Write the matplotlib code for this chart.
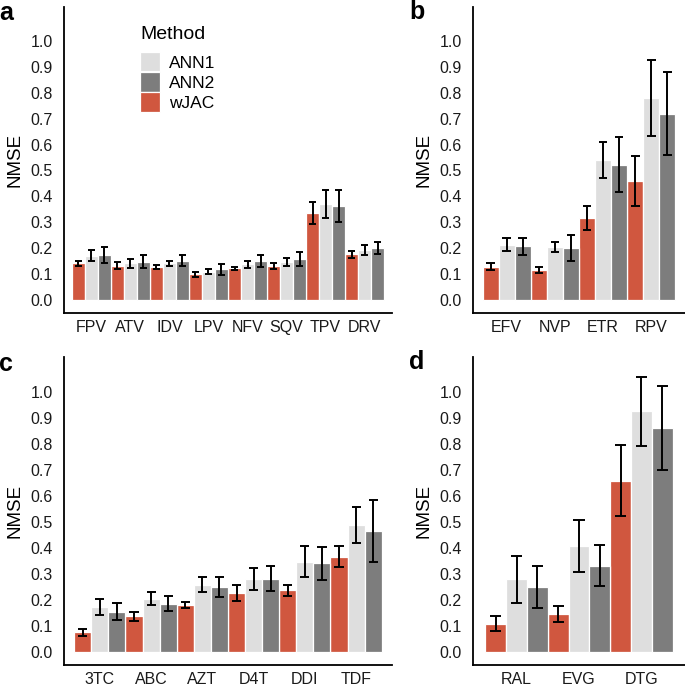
import matplotlib
matplotlib.use("Agg")
import matplotlib.pyplot as plt
import numpy as np

plt.rcParams['font.family'] = ['Liberation Sans', 'DejaVu Sans']

methods = ["wJAC", "ANN1", "ANN2"]
colors = {"wJAC": "#D0573F", "ANN1": "#DEDEDE", "ANN2": "#7D7D7D"}

# Panel a
a_cats = ["FPV", "ATV", "IDV", "LPV", "NFV", "SQV", "TPV", "DRV"]
a_wjac = [0.142, 0.133, 0.126, 0.100, 0.122, 0.131, 0.335, 0.176]
a_wjac_err = [0.009, 0.014, 0.008, 0.010, 0.006, 0.010, 0.042, 0.015]
a_ann1 = [0.171, 0.142, 0.142, 0.109, 0.138, 0.148, 0.371, 0.193]
a_ann1_err = [0.021, 0.018, 0.009, 0.009, 0.014, 0.016, 0.055, 0.021]
a_ann2 = [0.174, 0.147, 0.152, 0.118, 0.152, 0.157, 0.363, 0.200]
a_ann2_err = [0.030, 0.025, 0.022, 0.021, 0.023, 0.027, 0.063, 0.024]

# Panel b
b_cats = ["EFV", "NVP", "ETR", "RPV"]
b_wjac = [0.128, 0.115, 0.317, 0.460]
b_wjac_err = [0.013, 0.011, 0.047, 0.096]
b_ann1 = [0.214, 0.205, 0.541, 0.780]
b_ann1_err = [0.026, 0.018, 0.069, 0.146]
b_ann2 = [0.207, 0.202, 0.523, 0.720]
b_ann2_err = [0.032, 0.050, 0.105, 0.159]

# Panel c
c_cats = ["3TC", "ABC", "AZT", "D4T", "DDI", "TDF"]
c_wjac = [0.076, 0.137, 0.182, 0.227, 0.237, 0.367]
c_wjac_err = [0.013, 0.016, 0.012, 0.030, 0.020, 0.039]
c_ann1 = [0.172, 0.205, 0.259, 0.282, 0.347, 0.488]
c_ann1_err = [0.030, 0.026, 0.030, 0.043, 0.060, 0.070]
c_ann2 = [0.155, 0.186, 0.249, 0.281, 0.341, 0.466]
c_ann2_err = [0.032, 0.028, 0.039, 0.048, 0.064, 0.118]

# Panel d
d_cats = ["RAL", "EVG", "DTG"]
d_wjac = [0.109, 0.146, 0.659]
d_wjac_err = [0.029, 0.032, 0.136]
d_ann1 = [0.279, 0.406, 0.926]
d_ann1_err = [0.090, 0.100, 0.133]
d_ann2 = [0.250, 0.332, 0.862]
d_ann2_err = [0.079, 0.078, 0.163]

yticks = [0.0, 0.1, 0.2, 0.3, 0.4, 0.5, 0.6, 0.7, 0.8, 0.9, 1.0]

W, H = 685, 686
fig = plt.figure(figsize=(W / 100, H / 100), dpi=100)


def px_axes(x0, x1, ytop, ybot):
    return fig.add_axes([x0 / W, (H - ybot) / H, (x1 - x0) / W, (ybot - ytop) / H])


def draw_panel(ax, cats, series, ylim, letter, letter_xy):
    n = len(cats)
    handles = {}
    for j, (m, vals, errs) in enumerate(series):
        x = np.arange(n) * 3 + j + 1
        bc = ax.bar(x, vals, width=1.0, color=colors[m], edgecolor="white",
                    linewidth=0.9, zorder=2)
        handles[m] = bc
        lo = np.array(vals) - np.array(errs)
        hi = np.array(vals) + np.array(errs)
        ax.vlines(x, lo, hi, color="black", linewidth=1.4, zorder=3)
        ax.hlines(lo, x - 0.27, x + 0.27, color="black", linewidth=1.4, zorder=3)
        ax.hlines(hi, x - 0.27, x + 0.27, color="black", linewidth=1.4, zorder=3)
    ax.set_xlim(-0.1, 3 * n + 1.1)
    ax.set_ylim(*ylim)
    ax.set_xticks(np.arange(n) * 3 + 2)
    ax.set_xticklabels(cats)
    ax.set_yticks(yticks)
    ax.set_yticklabels([f"{t:.1f}" for t in yticks])
    ax.tick_params(axis="both", length=0, labelsize=11.5, colors="#1a1a1a")
    ax.tick_params(axis="y", pad=8)
    ax.tick_params(axis="x", pad=5)
    for s in ["top", "right"]:
        ax.spines[s].set_visible(False)
    for s in ["left", "bottom"]:
        ax.spines[s].set_linewidth(1.3)
        ax.spines[s].set_color("black")
    ax.set_ylabel("NMSE", fontsize=13.5, labelpad=5)
    fig.text(letter_xy[0] / W, 1 - letter_xy[1] / H, letter, fontsize=18,
             fontweight="bold", ha="left", va="top")
    return handles


ylim_top = (-13 / 259, (300 - 7) / 259)
ylim_bot = (-13 / 260, (652 - 357) / 260)

ax_a = px_axes(64, 392, 7, 313)
ax_b = px_axes(473, 685, 7, 313)
ax_c = px_axes(64, 392, 357, 665)
ax_d = px_axes(473, 685, 357, 665)

h = draw_panel(ax_a, a_cats, [("wJAC", a_wjac, a_wjac_err), ("ANN1", a_ann1, a_ann1_err),
                              ("ANN2", a_ann2, a_ann2_err)], ylim_top, "a", (-1, 1))
draw_panel(ax_b, b_cats, [("wJAC", b_wjac, b_wjac_err), ("ANN1", b_ann1, b_ann1_err),
                          ("ANN2", b_ann2, b_ann2_err)], ylim_top, "b", (409, 0))
draw_panel(ax_c, c_cats, [("wJAC", c_wjac, c_wjac_err), ("ANN1", c_ann1, c_ann1_err),
                          ("ANN2", c_ann2, c_ann2_err)], ylim_bot, "c", (-1, 352))
draw_panel(ax_d, d_cats, [("wJAC", d_wjac, d_wjac_err), ("ANN1", d_ann1, d_ann1_err),
                          ("ANN2", d_ann2, d_ann2_err)], ylim_bot, "d", (409, 350))

fig.text(140 / W, 1 - 26 / H, "Method", fontsize=14, ha="left", va="top")
leg = ax_a.legend([h["ANN1"], h["ANN2"], h["wJAC"]], ["ANN1", "ANN2", "wJAC"],
                  loc="upper left",
                  bbox_to_anchor=(140 / W, 1 - 52 / H), bbox_transform=fig.transFigure,
                  frameon=False, fontsize=12.5,
                  handlelength=1.15, handleheight=1.35, labelspacing=0.04,
                  handletextpad=0.5, borderpad=0, borderaxespad=0)

fig.savefig("out.png", dpi=100)
